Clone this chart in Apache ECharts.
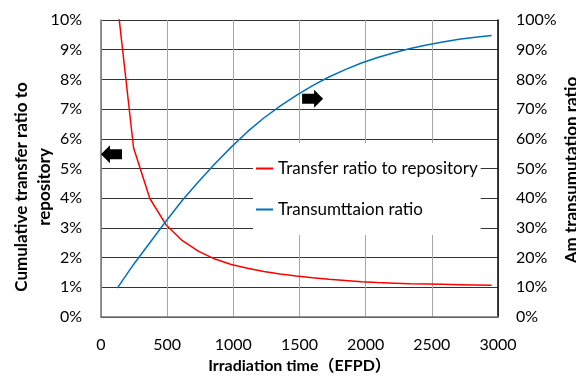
<!DOCTYPE html>
<html>
<head>
<meta charset="utf-8">
<script src="https://cdn.jsdelivr.net/npm/echarts@6/dist/echarts.min.js"></script>
<style>
  html, body { margin: 0; padding: 0; background: #fff; }
  #chart { width: 576px; height: 378px; }
</style>
</head>
<body>
<div id="chart"></div>
<script>
// irradiation time points (EFPD)
const days = [123, 246, 369, 492, 615, 738, 861, 984, 1107, 1230, 1353, 1476,
  1599, 1722, 1845, 1968, 2091, 2214, 2337, 2460, 2583, 2706, 2829, 2952];
// cumulative transfer ratio to repository (%), left axis
const transferRatio = [10.6, 5.7, 3.99, 3.1, 2.57, 2.21, 1.95, 1.77, 1.64, 1.53, 1.45, 1.38,
  1.32, 1.27, 1.23, 1.19, 1.16, 1.14, 1.12, 1.11, 1.10, 1.09, 1.08, 1.07];
// Am transmutation ratio (%), right axis
const transmutation = [9.7, 17.7, 25.0, 32.3, 39.3, 45.6, 51.6, 57.2, 62.4, 67.0, 71.0, 74.6,
  77.9, 80.8, 83.3, 85.5, 87.4, 89.0, 90.4, 91.6, 92.6, 93.5, 94.2, 94.8];
const xTicks = [0, 3000, 500];
const leftTicks = [0, 10, 1];
const rightTicks = [0, 100, 10];
// annotation arrows (data coords on left axis)
const arrowLeftAt = [79, 5.48];
const arrowRightAt = [1599, 7.35];

const font = "Lato, 'Noto Sans CJK SC', sans-serif";
const labelStyle = { color: "#000", fontSize: 16, fontFamily: font };
const arrowLeft = "path://M0,9 L9,0 L9,4 L21,4 L21,14 L9,14 L9,18 Z";
const arrowRight = "path://M21,9 L12,0 L12,4 L0,4 L0,14 L12,14 L12,18 Z";

const chart = echarts.init(document.getElementById("chart"));
chart.setOption({
  animation: false,
  grid: { left: 101, right: 78, top: 20, bottom: 61, outerBoundsMode: "none" },
  legend: {
    orient: "vertical",
    left: 253,
    top: 143,
    backgroundColor: "#fff",
    padding: [17, 3, 17, 3],
    itemGap: 24,
    itemWidth: 17,
    itemHeight: 2,
    textStyle: { ...labelStyle, fontSize: 17 },
    data: [
      { name: "Transfer ratio to repository", icon: "rect" },
      { name: "Transumttaion ratio", icon: "rect" },
    ],
  },
  xAxis: {
    type: "value",
    min: xTicks[0],
    max: xTicks[1],
    interval: xTicks[2],
    name: "Irradiation time（EFPD）",
    nameLocation: "middle",
    nameGap: 40,
    nameTextStyle: { color: "#000", fontSize: 16, fontWeight: "bold", fontFamily: font },
    axisLine: { lineStyle: { color: "#767676", width: 1.5 } },
    axisTick: { show: false },
    axisLabel: { ...labelStyle, margin: 20, formatter: (v) => String(v) },
    splitLine: { show: true, lineStyle: { color: "#a6a6a6", width: 1 } },
  },
  yAxis: [
    {
      type: "value",
      min: leftTicks[0],
      max: leftTicks[1],
      interval: leftTicks[2],
      axisLine: { show: true, lineStyle: { color: "#767676", width: 1.5 } },
      axisTick: { show: false },
      axisLabel: { ...labelStyle, margin: 19, formatter: "{value}%" },
      splitLine: { lineStyle: { color: "#333", width: 1 } },
    },
    {
      type: "value",
      min: rightTicks[0],
      max: rightTicks[1],
      interval: rightTicks[2],
      position: "right",
      axisLine: { show: true, lineStyle: { color: "#000", width: 1.5 } },
      axisTick: { show: false },
      axisLabel: { ...labelStyle, margin: 18, formatter: "{value}%" },
      splitLine: { show: false },
    },
  ],
  graphic: [
    {
      type: "text",
      x: 33,
      y: 187,
      rotation: Math.PI / 2,
      style: {
        text: "Cumulative transfer ratio to\nrepository",
        fill: "#000",
        font: "bold 17px " + font,
        align: "center",
        verticalAlign: "middle",
        lineHeight: 23,
      },
    },
    {
      type: "text",
      x: 572,
      y: 170,
      rotation: Math.PI / 2,
      style: {
        text: "Am transumutation ratio",
        fill: "#000",
        font: "bold 17px " + font,
        align: "center",
        verticalAlign: "middle",
      },
    },
  ],
  series: [
    {
      name: "Transfer ratio to repository",
      type: "line",
      yAxisIndex: 0,
      showSymbol: false,
      symbol: "none",
      lineStyle: { color: "#ff0000", width: 1.5 },
      itemStyle: { color: "#ff0000" },
      data: days.map((d, i) => [d, transferRatio[i]]),
      markPoint: {
        silent: true,
        label: { show: false },
        itemStyle: { color: "#000" },
        data: [
          { coord: arrowLeftAt, symbol: arrowLeft, symbolSize: [21, 18] },
          { coord: arrowRightAt, symbol: arrowRight, symbolSize: [21, 18] },
        ],
      },
    },
    {
      name: "Transumttaion ratio",
      type: "line",
      yAxisIndex: 1,
      showSymbol: false,
      symbol: "none",
      lineStyle: { color: "#0070c0", width: 1.5 },
      itemStyle: { color: "#0070c0" },
      data: days.map((d, i) => [d, transmutation[i]]),
    },
  ],
});
</script>
</body>
</html>
